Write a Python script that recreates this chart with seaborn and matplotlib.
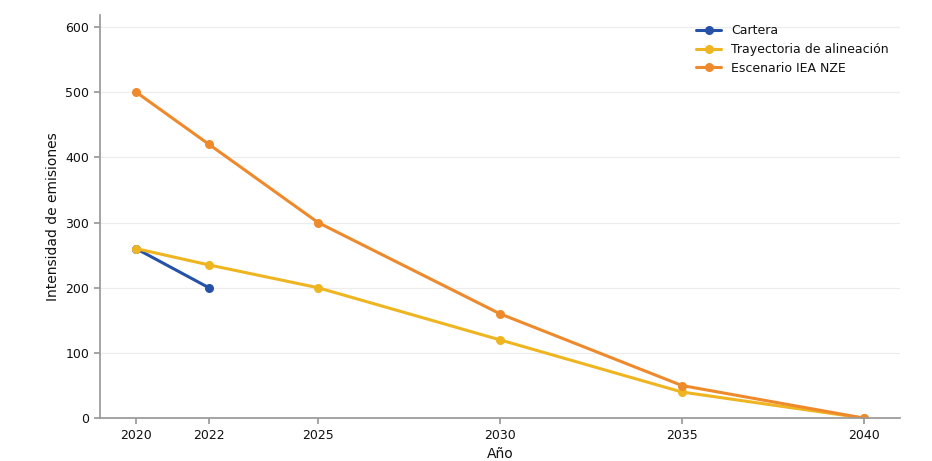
import seaborn as sns
import matplotlib.pyplot as plt
import pandas as pd

years_cartera = [2020, 2022]
cartera = [260, 200]
years_path = [2020, 2022, 2025, 2030, 2035, 2040]
trayectoria = [260, 235, 200, 120, 40, 0]
iea_nze = [500, 420, 300, 160, 50, 0]
xticks = [2020, 2022, 2025, 2030, 2035, 2040]

df = pd.concat([
    pd.DataFrame({'Año': years_cartera, 'valor': cartera, 'serie': 'Cartera'}),
    pd.DataFrame({'Año': years_path, 'valor': trayectoria, 'serie': 'Trayectoria de alineación'}),
    pd.DataFrame({'Año': years_path, 'valor': iea_nze, 'serie': 'Escenario IEA NZE'}),
])

sns.set_theme(style='white')
plt.rcParams['font.family'] = ['DejaVu Sans']
plt.rcParams['text.color'] = '#111111'
plt.rcParams['axes.labelcolor'] = '#111111'
plt.rcParams['xtick.color'] = '#111111'
plt.rcParams['ytick.color'] = '#111111'

fig, ax = plt.subplots(figsize=(9.32, 4.61), dpi=100)
palette = {'Cartera': '#2552a6', 'Trayectoria de alineación': '#efb521',
           'Escenario IEA NZE': '#ef8a2c'}
sns.lineplot(data=df, x='Año', y='valor', hue='serie', palette=palette,
             marker='o', markersize=6.5, markeredgewidth=0, linewidth=2.2, ax=ax)

ax.set_xlim(2019, 2041)
ax.set_ylim(0, 618)
ax.set_xticks(xticks)
ax.set_yticks([0, 100, 200, 300, 400, 500, 600])
ax.set_xlabel('Año', fontsize=10)
ax.set_ylabel('Intensidad de emisiones', fontsize=10)
ax.tick_params(axis='both', labelsize=9, length=4, color='#999999', bottom=True, left=True)
ax.yaxis.grid(True, color='#ececec', linewidth=0.8)
sns.despine(ax=ax)
for s in ['left', 'bottom']:
    ax.spines[s].set_color('#999999')
ax.legend(title=None, frameon=False, loc='upper right', fontsize=9,
          labelspacing=0.45, bbox_to_anchor=(1.0, 1.005))

plt.subplots_adjust(left=0.107, right=0.966, top=0.967, bottom=0.093)
fig.savefig('out.png', dpi=100)
